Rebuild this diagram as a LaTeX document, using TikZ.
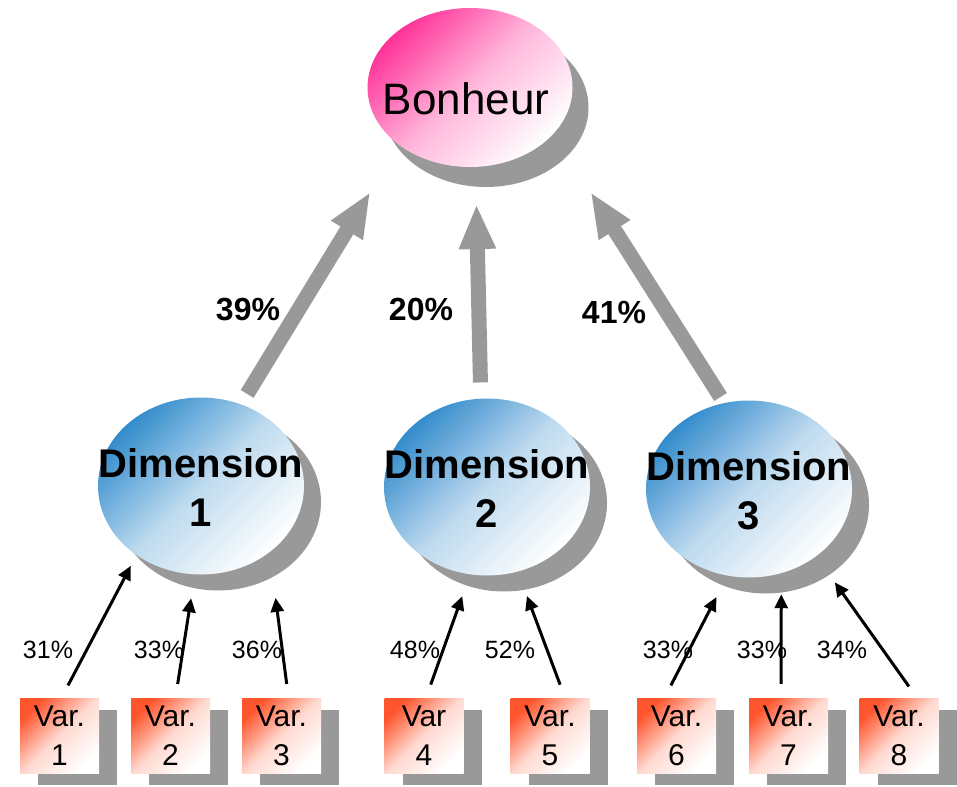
\documentclass[tikz,border=0pt]{standalone}
\usepackage{fontspec}
\setmainfont{Liberation Sans}
\usetikzlibrary{shapes.geometric,shadows,arrows.meta}
\definecolor{shadowgray}{RGB}{153,153,153}
\definecolor{bonpink}{RGB}{255,51,153}
\definecolor{dimblue}{RGB}{51,140,204}
\definecolor{varred}{RGB}{255,85,45}

\begin{document}
\begin{tikzpicture}[x=1pt,y=-1pt,
 bubble/.style={ellipse,inner sep=0pt},
 bonbubble/.style={bubble,minimum width=205pt,minimum height=159pt,
  drop shadow={shadow xshift=16pt,shadow yshift=-20pt,fill=shadowgray,opacity=1},
  top color=bonpink,bottom color=white,middle color=bonpink!35!white,shading angle=45},
 dimbubble/.style={bubble,minimum width=206pt,minimum height=177pt,
  drop shadow={shadow xshift=17pt,shadow yshift=-16pt,fill=shadowgray,opacity=1},
  top color=dimblue,bottom color=white,middle color=dimblue!32!white,shading angle=45},
 varbox/.style={rectangle,inner sep=0pt,minimum width=79pt,minimum height=75pt,
  drop shadow={shadow xshift=18pt,shadow yshift=-12pt,fill=shadowgray,opacity=1},
  top color=varred,bottom color=white,middle color=varred!22!white,shading angle=45,
  align=center,font=\fontsize{30}{39}\selectfont},
 bonlabel/.style={font=\fontsize{44}{48}\selectfont,anchor=base},
 dimlabel/.style={align=center,font=\bfseries\fontsize{40}{49}\selectfont},
 pct/.style={font=\fontsize{25}{30}\selectfont,anchor=base},
 bigpct/.style={font=\bfseries\fontsize{32}{36}\selectfont,anchor=base},
 flow/.style={draw=shadowgray,line width=15pt,-{Triangle[length=45pt,width=34pt]}},
 weight/.style={draw,line width=3pt,-{Triangle[length=14pt,width=13pt]},shorten <=14pt}]
 \useasboundingbox (0,0) rectangle (957,786);

 \node[bonbubble] (bonheur) at (470,87.5) {};
 \node[bonlabel] (bonheur label) at (466,115) {Bonheur};

 \foreach \n/\x/\y in {1/201/486,2/487/487,3/749/489}{
  \node[dimbubble] (dim\n) at (\x,\y) {};
  \node[dimlabel,yshift=-2pt] (dim\n label) at (dim\n) {Dimension\\\n};
 }

 \foreach \n/\x/\t in {1/59.5/Var.,2/170.5/Var.,3/281.5/Var.,4/424/Var,
  5/550/Var.,6/676.5/Var.,7/788.5/Var.,8/899/Var.}
  \node[varbox] (var\n) at (\x,735.5) {\t\\\n};

 \draw[flow,shorten <=12pt,shorten >=55pt] (dim1.64) -- (bonheur.219);
 \draw[flow,shorten <=16pt,shorten >=37pt] (dim2.94) -- (bonheur.274);
 \draw[flow,shorten <=7pt,shorten >=69pt] (dim3.106) -- (bonheur.331);

 \node[bigpct] (w1) at (248,320) {39\%};
 \node[bigpct] (w2) at (421,320) {20\%};
 \node[bigpct] (w3) at (614,323) {41\%};

 \foreach \x/\p [count=\i] in {48/31,159/33,257/36,415/48,510/52,668/33,762/33,842/34}
  \node[pct] (pct\i) at (\x,658) {\p\%};

 \foreach \v/\d/\s/\a/\e in {1/1/2/227/12,2/1/5/266/24,3/1/7/316/46,4/2/2/259/23,
  5/2/15/290/26,6/3/-12/256/24,7/3/-7.5/291/21,8/3/18/315/32}
  \draw[weight,shorten >=\e pt] ([xshift=\s pt]var\v.north) -- (dim\d.\a);
\end{tikzpicture}
\end{document}
